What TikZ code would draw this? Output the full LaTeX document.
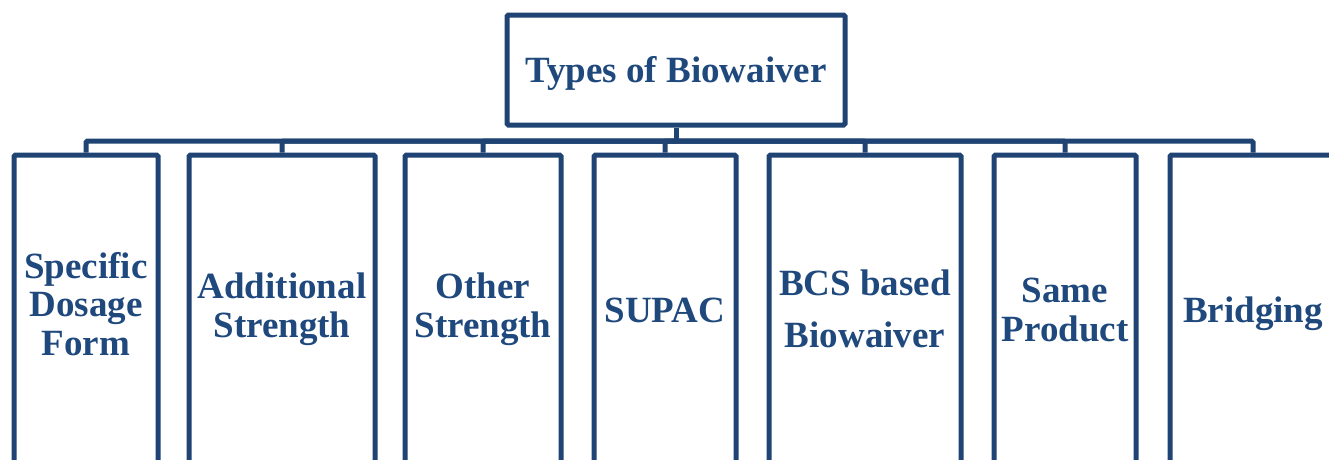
\documentclass[tikz,border=0pt]{standalone}
\usepackage{fontspec}
\setmainfont{Liberation Serif}
\definecolor{lineblue}{RGB}{31,67,115}
\definecolor{textblue}{RGB}{31,73,125}
\begin{document}
\begin{tikzpicture}[x=1pt,y=-1pt,
  box/.style={draw=lineblue, line width=5pt, rounded corners=1.5pt, fill=white, inner sep=0pt},
  conn/.style={draw=lineblue, line width=5pt},
  lbl/.style={text=textblue, font=\bfseries\fontsize{37}{38.5}\selectfont, align=center, inner sep=0pt, anchor=base}]
\useasboundingbox (0,0) rectangle (1329,459);
\clip (0,0) rectangle (1329,459);
% top node
\node[box, minimum width=338, minimum height=110] (top) at (676,70) {};
\coordinate (bus) at (676,141);
% child boxes
\node[box, minimum width=144, minimum height=315] (b1) at (86,312.5) {};
\node[box, minimum width=186, minimum height=315] (b2) at (282,312.5) {};
\node[box, minimum width=156, minimum height=315] (b3) at (483,312.5) {};
\node[box, minimum width=142, minimum height=315] (b4) at (665,312.5) {};
\node[box, minimum width=192, minimum height=315] (b5) at (865,312.5) {};
\node[box, minimum width=142, minimum height=315] (b6) at (1065,312.5) {};
\node[box, minimum width=166, minimum height=315] (b7) at (1253,312.5) {};
% connectors
\draw[conn] (top.south) -- (bus);
\foreach \b in {b1,b2,b3,b4,b5,b6,b7}{
  \draw[conn, rounded corners=1.5pt] (\b.north) |- (bus);
}
% labels (base anchor = baseline of the last line)
\node[lbl] (t0) at (676,82) {Types of Biowaiver};
\node[lbl] (t1) at (86,355) {Specific\\Dosage\\Form};
\node[lbl] (t2) at (282,337) {Additional\\Strength};
\node[lbl] (t3) at (483,337) {Other\\Strength};
\node[lbl] (t4) at (665,322) {SUPAC};
\node[lbl] (t5) at (865,347) {BCS based\\[13.5pt]Biowaiver};
\node[lbl] (t6) at (1065,341) {Same\\Product};
\node[lbl] (t7) at (1253,322) {Bridging};
\end{tikzpicture}
\end{document}
